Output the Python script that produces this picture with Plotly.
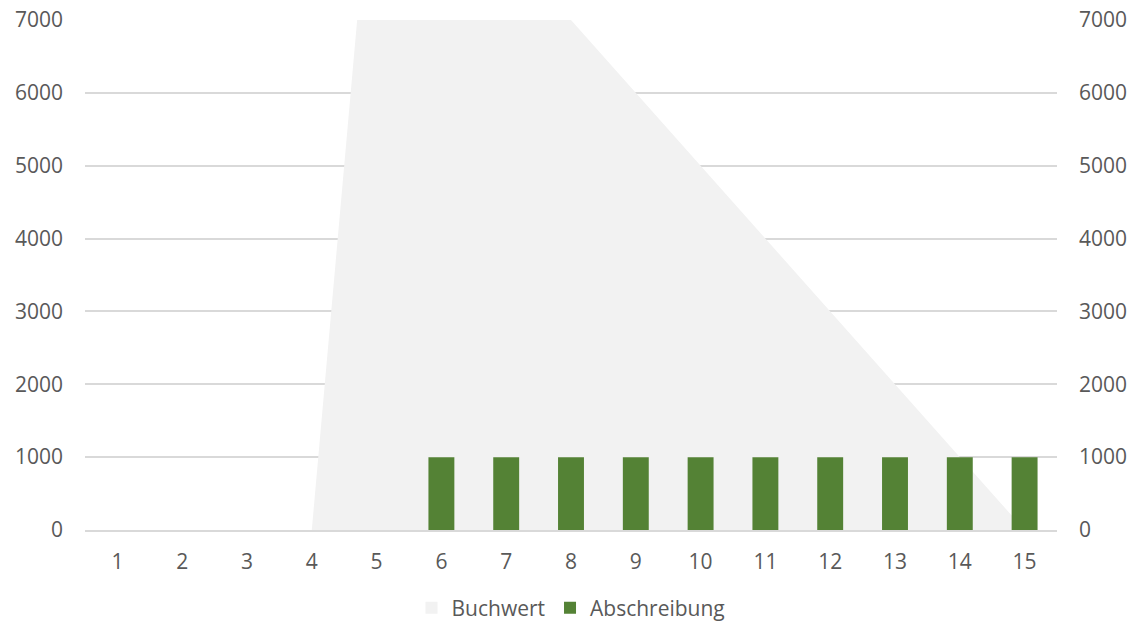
import plotly.graph_objects as go

# Periods and values
perioden = [str(i) for i in range(1, 16)]
buchwert = [0, 0, 0, 0, 10000, 9000, 8000, 7000, 6000, 5000, 4000, 3000, 2000, 1000, 0]
abschreibung = [0, 0, 0, 0, 0, 1000, 1000, 1000, 1000, 1000, 1000, 1000, 1000, 1000, 1000]
y_ticks = [0, 1000, 2000, 3000, 4000, 5000, 6000, 7000]

FONT = "Open Sans"
TXT = "#595959"
GRID = "#d9d9d9"
AREA = "#f2f2f2"
GREEN = "#548235"
FS = 21

fig = go.Figure()

# Book value as filled area
fig.add_trace(go.Scatter(
    x=perioden, y=buchwert, mode="lines", fill="tozeroy",
    fillcolor=AREA, line=dict(width=0, color=AREA),
    name="Buchwert", showlegend=False, yaxis="y", hoverinfo="skip",
))

# Depreciation as bars (on the overlaid axis so they sit above the area)
fig.add_trace(go.Bar(
    x=perioden, y=abschreibung, marker=dict(color=GREEN, line=dict(width=0)),
    width=0.4, name="Abschreibung", showlegend=False, yaxis="y2",
))

# Legend entries
fig.add_trace(go.Scatter(
    x=[None], y=[None], mode="markers", name="Buchwert",
    marker=dict(symbol="square", size=14, color=AREA),
))
fig.add_trace(go.Scatter(
    x=[None], y=[None], mode="markers", name="Abschreibung",
    marker=dict(symbol="square", size=14, color=GREEN),
))

axis_y = dict(
    range=[0, 7000], tickvals=y_ticks, ticktext=[str(v) for v in y_ticks],
    tickfont=dict(family=FONT, size=FS, color=TXT),
    zeroline=False, ticks="", fixedrange=True,
)

fig.update_layout(
    width=1131, height=623,
    margin=dict(l=85, r=74, t=20, b=93, autoexpand=False),
    paper_bgcolor="white", plot_bgcolor="white",
    font=dict(family=FONT, size=FS, color=TXT),
    barmode="overlay",
    xaxis=dict(
        type="category", categoryorder="array", categoryarray=perioden,
        range=[-0.5, 14.5], showgrid=False, zeroline=False,
        showline=True, linecolor=GRID, linewidth=1.5,
        ticks="", ticklabelstandoff=12,
        tickfont=dict(family=FONT, size=FS, color=TXT),
    ),
    yaxis=dict(**axis_y, side="left", showgrid=True, gridcolor=GRID, gridwidth=1.5,
               ticklabelstandoff=21),
    yaxis2=dict(**axis_y, side="right", overlaying="y", showgrid=False,
                ticklabelstandoff=21),
    legend=dict(
        orientation="h", x=0.5, xanchor="center",
        yref="container", y=0.024, yanchor="middle",
        font=dict(family=FONT, size=FS, color=TXT),
        itemsizing="constant", bgcolor="rgba(0,0,0,0)",
    ),
    showlegend=True,
)

fig.write_html("out.html")
